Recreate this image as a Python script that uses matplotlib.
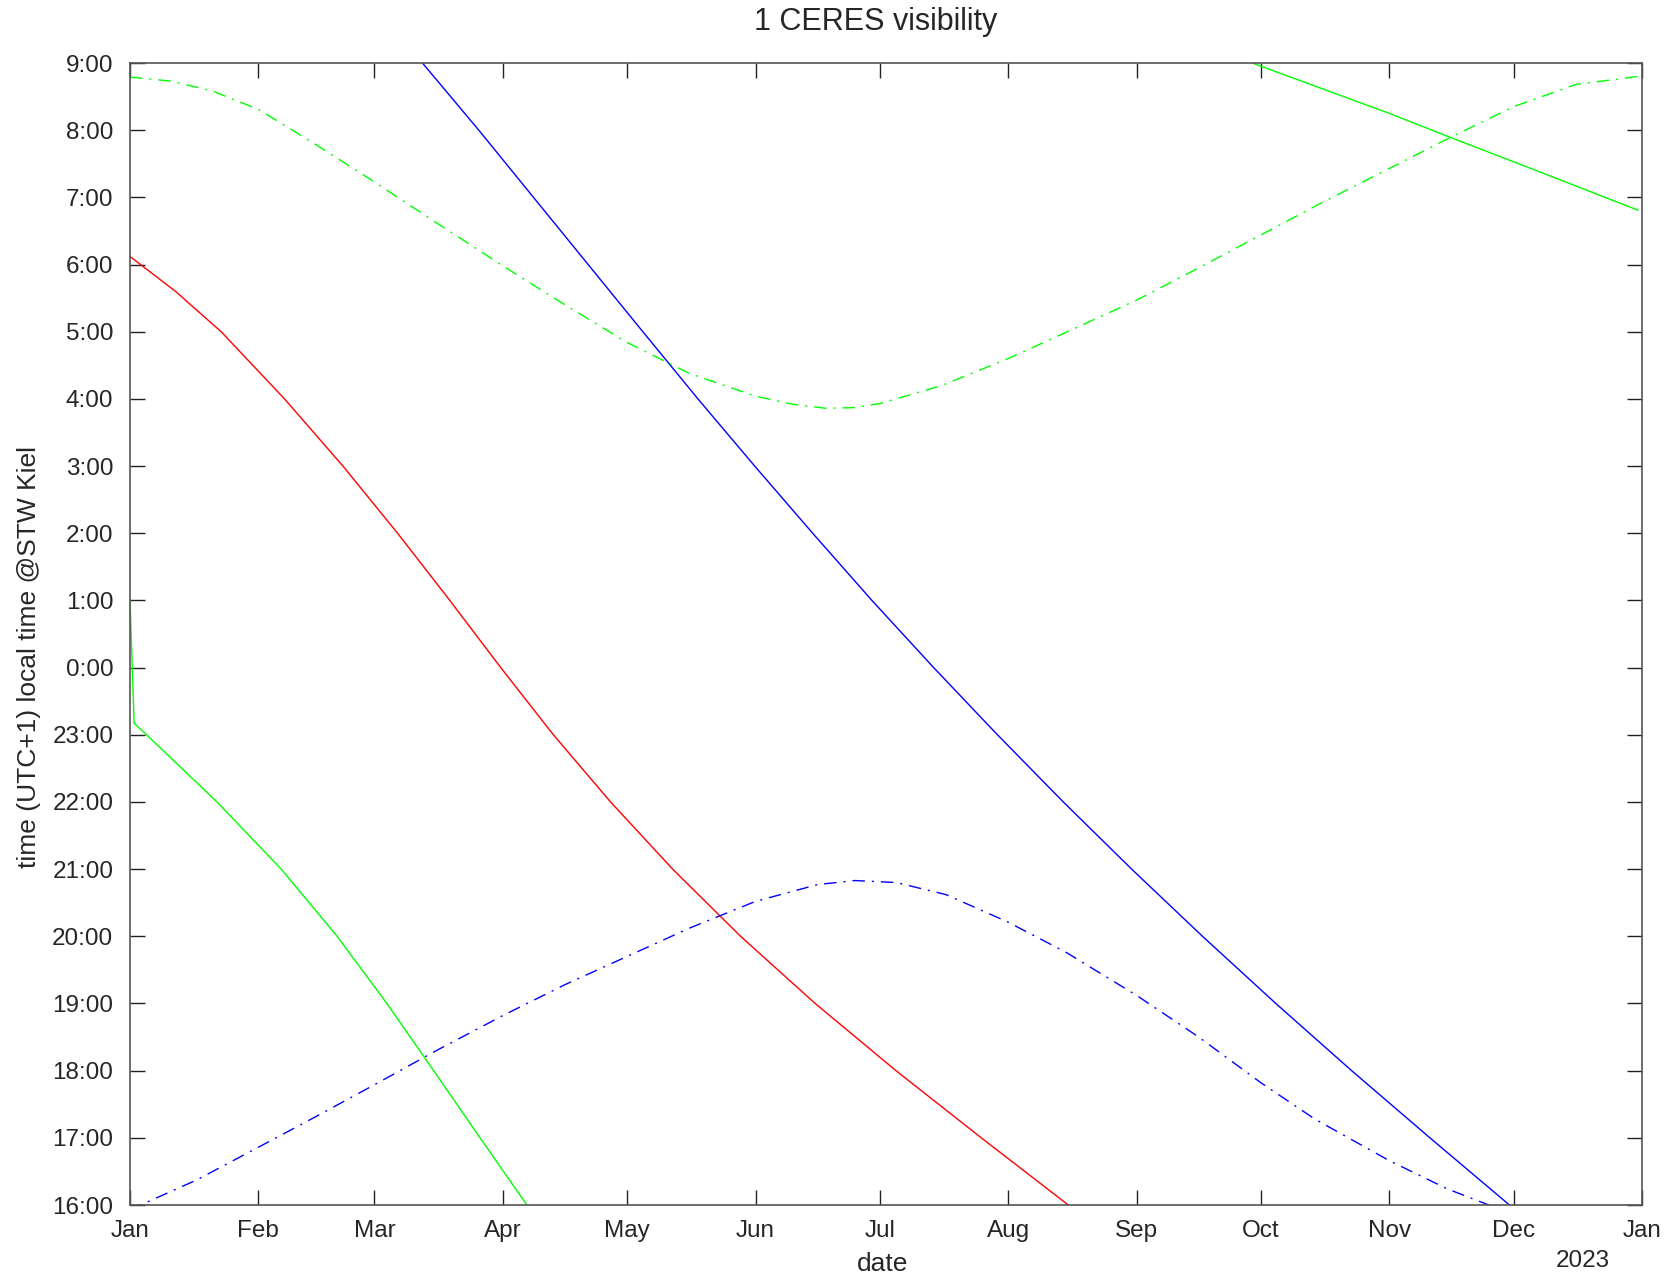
import numpy as np
import matplotlib
matplotlib.use("Agg")
import matplotlib.pyplot as plt
import matplotlib.dates as mdates
from datetime import datetime

plt.rcParams['font.family'] = ['Liberation Sans', 'DejaVu Sans']

# x values: days since 1 Jan 2022; y values: local clock time (UTC+1) in decimal hours
sunrise_day = [0, 10, 20, 31, 45, 59, 74, 90, 105, 120, 135, 151, 160, 168, 175, 181,
               196, 212, 227, 243, 258, 273, 288, 304, 319, 334, 349, 364]
sunrise_time = [8.79, 8.73, 8.58, 8.31, 7.78, 7.23, 6.62, 5.98, 5.40, 4.84, 4.38, 4.04,
                3.92, 3.86, 3.87, 3.93, 4.20, 4.60, 5.02, 5.47, 5.95, 6.44, 6.93, 7.43,
                7.90, 8.35, 8.68, 8.80]

sunset_day = [0, 16, 31, 45, 59, 74, 90, 105, 120, 135, 151, 166, 175, 185, 197, 212,
              226, 243, 258, 273, 286, 304, 318, 328, 334]
sunset_time = [15.93, 16.37, 16.86, 17.32, 17.79, 18.30, 18.82, 19.28, 19.70, 20.12,
               20.52, 20.77, 20.83, 20.80, 20.62, 20.21, 19.76, 19.12, 18.50, 17.82,
               17.28, 16.66, 16.24, 16.00, 15.88]

ceres_red_day = [0, 11, 22, 37.3, 51.4, 64.6, 77.2, 89.5, 102.2, 116.0, 131.0, 147.4,
                 165.4, 184.9, 205.5, 226.5]
ceres_red_time = [6.12, 5.60, 5.00, 4.00, 3.00, 2.00, 1.00, 0.00, 23.00, 22.00, 21.00,
                  20.00, 19.00, 18.00, 17.00, 16.00]

ceres_blue_day = [70.6, 84.2, 97.4, 110.6, 123.8, 137.1, 150.8, 164.8, 179.1, 194.0,
                  209.4, 225.3, 241.8, 258.9, 276.6, 294.9, 313.8, 333.0]
ceres_blue_time = [9.00, 8.00, 7.00, 6.00, 5.00, 4.00, 3.00, 2.00, 1.00, 0.00, 23.00,
                   22.00, 21.00, 20.00, 19.00, 18.00, 17.00, 16.00]

ceres_green_a_day = [0, 1, 4, 21, 36.5, 50, 62, 73.3, 84.5, 95.8]
ceres_green_a_time = [1.00, 23.17, 23.00, 22.00, 21.00, 20.00, 19.00, 18.00, 17.00,
                      16.00]

ceres_green_b_day = [270.9, 304, 318, 334, 364]
ceres_green_b_time = [9.00, 8.25, 7.91, 7.53, 6.81]

hour_labels = [f"{(16 + i) % 24}:00" for i in range(18)]

base = mdates.date2num(datetime(2022, 1, 1))


def xs(days):
    return base + np.asarray(days, dtype=float)


def ys(times):
    # hours after 16:00, running through the night to 9:00 next morning
    return (np.asarray(times, dtype=float) - 15.0) % 24.0 - 1.0


fig = plt.figure(figsize=(16.7, 12.79), dpi=100)
ax = fig.add_axes([130 / 1670, 1 - 1205 / 1279, (1642 - 130) / 1670, (1205 - 63) / 1279])

dashdot = (0, (9, 5, 1.5, 5))
lw = 1.0
ax.plot(xs(ceres_red_day), ys(ceres_red_time), color='#ff0000', lw=lw)
ax.plot(xs(ceres_green_a_day), ys(ceres_green_a_time), color='#00ff00', lw=lw)
ax.plot(xs(ceres_green_b_day), ys(ceres_green_b_time), color='#00ff00', lw=lw)
ax.plot(xs(ceres_blue_day), ys(ceres_blue_time), color='#0000ff', lw=lw)
ax.plot(xs(sunrise_day), ys(sunrise_time), color='#00ff00', lw=lw, linestyle=dashdot)
ax.plot(xs(sunset_day), ys(sunset_time), color='#0000ff', lw=lw, linestyle=dashdot)

ax.set_xlim(base, base + 365)
ax.set_ylim(0, 17)
ax.set_yticks(range(18))
ax.set_yticklabels(hour_labels)
ax.xaxis.set_major_locator(mdates.MonthLocator())
ax.xaxis.set_major_formatter(mdates.DateFormatter('%b'))

text_color = '#262626'
ax.tick_params(direction='in', top=True, right=True, length=11, width=1.0,
               color='#222222', labelsize=17.5, labelcolor=text_color)
ax.tick_params(axis='x', pad=11)
ax.tick_params(axis='y', pad=12)
for sp in ax.spines.values():
    sp.set_color('#555555')
    sp.set_linewidth(1.2)

fig.text(876 / 1670, 1 - 22 / 1279, '1 CERES visibility', ha='center', va='center',
         fontsize=22, color=text_color)
fig.text(29 / 1670, 1 - 657 / 1279, 'time (UTC+1) local time @STW Kiel', ha='center',
         va='center', rotation=90, fontsize=19, color=text_color)
fig.text(883 / 1670, 1 - 1264 / 1279, 'date', ha='center', va='center', fontsize=19,
         color=text_color)
fig.text(1583 / 1670, 1 - 1261 / 1279, '2023', ha='center', va='center', fontsize=17.5,
         color=text_color)

fig.savefig('out.png', dpi=100)
